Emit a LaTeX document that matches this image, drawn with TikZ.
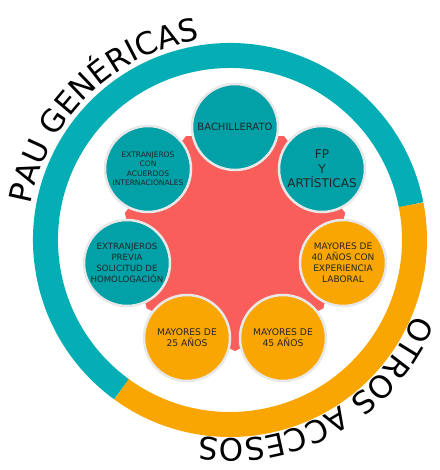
\documentclass[tikz,border=0pt]{standalone}
\usepackage{fontspec}
\setmainfont{DejaVu Sans}
\usetikzlibrary{decorations.text,calc}

\definecolor{ringteal}{HTML}{05AEB5}
\definecolor{dotteal}{HTML}{02A0A7}
\definecolor{dotorange}{HTML}{F9A602}
\definecolor{hubred}{HTML}{F95E5B}

\begin{document}
\begin{tikzpicture}[x=1pt,y=1pt,
    dot/.style={circle,draw=black!9,line width=2.5pt,minimum size=86pt,inner sep=0pt,align=center,text=black!85},
    arctext/.style={decorate,decoration={text along path,text={#1}}}]
    \clip (-230,-230) rectangle (209,240);

    \draw[ringteal,line width=25pt] (11:184.5) arc[start angle=11,end angle=234,radius=184.5];
    \draw[dotorange,line width=25pt] (234:184.5) arc[start angle=234,end angle=371,radius=184.5];

    \fill[hubred] ($(5,2)+(-90:113)$) \foreach \k in {1,...,6} {-- ($(5,2)+(-90+\k*360/7:113)$)} -- cycle;

    \node[dot,fill=dotteal,font=\fontsize{10}{12}\selectfont] (bach) at (5,113) {BACHILLERATO};
    \node[dot,fill=dotteal,font=\fontsize{12}{14.5}\selectfont] (fp) at (92,71) {FP\\Y\\ARTÍSTICAS};
    \node[dot,fill=dotorange,font=\fontsize{9}{11}\selectfont] (may40) at (113,-23) {MAYORES DE\\40 AÑOS CON\\EXPERIENCIA\\LABORAL};
    \node[dot,fill=dotorange,font=\fontsize{9.2}{11}\selectfont] (may45) at (53,-98) {MAYORES DE\\45 AÑOS};
    \node[dot,fill=dotorange,font=\fontsize{9.2}{11}\selectfont] (may25) at (-43,-98) {MAYORES DE\\25 AÑOS};
    \node[dot,fill=dotteal,font=\fontsize{8.6}{10.8}\selectfont] (extprev) at (-103,-23) {EXTRANJEROS\\PREVIA\\SOLICITUD DE\\HOMOLOGACIÓN};
    \node[dot,fill=dotteal,font=\fontsize{7.5}{9.5}\selectfont] (extcon) at (-82,71) {EXTRANJEROS\\CON\\ACUERDOS\\INTERNACIONALES};

    \path[arctext={|\fontsize{31}{37}\selectfont|PAU GENÉRICAS}] (170:202) arc[start angle=170,end angle=90,radius=202];
    \path[arctext={|\fontsize{31}{37}\selectfont|OTROS ACCESOS}] (-22:199) arc[start angle=-22,end angle=-110,radius=199];
\end{tikzpicture}
\end{document}
